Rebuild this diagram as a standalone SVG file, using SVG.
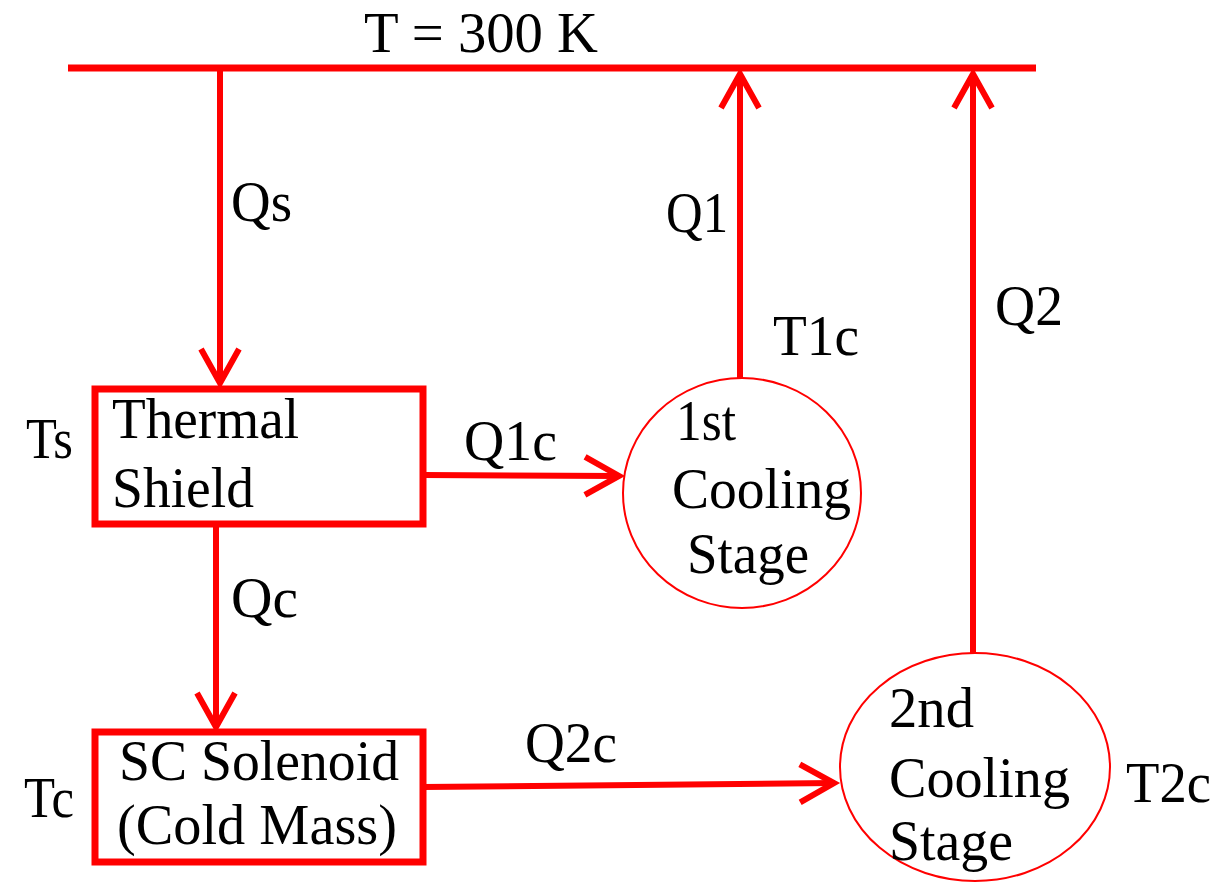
<svg xmlns="http://www.w3.org/2000/svg" width="1217" height="886" viewBox="0 0 1217 886" font-family="'Liberation Serif', 'Times New Roman', 'DejaVu Serif', serif">
<style>
text{font-family:'Liberation Serif','Times New Roman','DejaVu Serif',serif;font-size:58px;fill:#000}
.box{fill:#fff;stroke:#ff0000;stroke-width:7}
.circ{fill:#fff;stroke:#ff0000;stroke-width:2}
.conn{stroke:#ff0000;stroke-width:6;fill:none}
</style>
<defs>
<marker id="arr" markerUnits="userSpaceOnUse" markerWidth="60" markerHeight="60" viewBox="-50 -30 60 60" refX="0" refY="0" orient="auto" overflow="visible">
<path d="M-34,-19 L0,0 L-34,19" stroke="#ff0000" stroke-width="6" fill="none" stroke-linejoin="miter"/>
</marker>
</defs>
<rect width="1217" height="886" fill="#fff"/>
<g id="ambient">
<line x1="68" y1="68" x2="1036" y2="68" stroke="#ff0000" stroke-width="7"/>
<text x="364" y="52" textLength="234" lengthAdjust="spacingAndGlyphs">T = 300 K</text>
</g>
<g id="connectors">
<path class="conn" d="M220,68 V383" marker-end="url(#arr)"/>
<path class="conn" d="M216,524 V727" marker-end="url(#arr)"/>
<path class="conn" d="M423,475 L619,476" marker-end="url(#arr)"/>
<path class="conn" d="M740,380 V74" marker-end="url(#arr)"/>
<path class="conn" d="M973,655 V74" marker-end="url(#arr)"/>
<path class="conn" d="M423,787 L834,783" marker-end="url(#arr)"/>
</g>
<g id="labels">
<text x="231" y="221" textLength="61" lengthAdjust="spacingAndGlyphs">Qs</text>
<text x="666" y="232" textLength="62" lengthAdjust="spacingAndGlyphs">Q1</text>
<text x="773" y="355" textLength="86" lengthAdjust="spacingAndGlyphs">T1c</text>
<text x="995" y="325" textLength="68" lengthAdjust="spacingAndGlyphs">Q2</text>
<text x="26" y="458" textLength="47" lengthAdjust="spacingAndGlyphs">Ts</text>
<text x="464" y="460" textLength="93" lengthAdjust="spacingAndGlyphs">Q1c</text>
<text x="231" y="617" textLength="67" lengthAdjust="spacingAndGlyphs">Qc</text>
<text x="24" y="817" textLength="50" lengthAdjust="spacingAndGlyphs">Tc</text>
<text x="525" y="762" textLength="92" lengthAdjust="spacingAndGlyphs">Q2c</text>
<text x="1126" y="802" textLength="85" lengthAdjust="spacingAndGlyphs">T2c</text>
</g>
<g id="thermal-shield">
<rect class="box" x="95" y="389" width="328" height="135"/>
<text x="112" y="438" textLength="187" lengthAdjust="spacingAndGlyphs">Thermal</text>
<text x="112" y="507" textLength="142" lengthAdjust="spacingAndGlyphs">Shield</text>
</g>
<g id="sc-solenoid">
<rect class="box" x="95" y="732" width="328" height="130"/>
<text x="119" y="780" textLength="280" lengthAdjust="spacingAndGlyphs">SC Solenoid</text>
<text x="117" y="844" textLength="280" lengthAdjust="spacingAndGlyphs">(Cold Mass)</text>
</g>
<g id="stage1">
<ellipse class="circ" cx="742" cy="493" rx="119" ry="115"/>
<text x="676" y="440" textLength="60" lengthAdjust="spacingAndGlyphs">1st</text>
<text x="672" y="508" textLength="179" lengthAdjust="spacingAndGlyphs">Cooling</text>
<text x="687" y="573" textLength="122" lengthAdjust="spacingAndGlyphs">Stage</text>
</g>
<g id="stage2">
<ellipse class="circ" cx="975" cy="767" rx="135" ry="114"/>
<text x="889" y="727" textLength="85" lengthAdjust="spacingAndGlyphs">2nd</text>
<text x="889" y="797" textLength="181" lengthAdjust="spacingAndGlyphs">Cooling</text>
<text x="889" y="860" textLength="124" lengthAdjust="spacingAndGlyphs">Stage</text>
</g>
</svg>
